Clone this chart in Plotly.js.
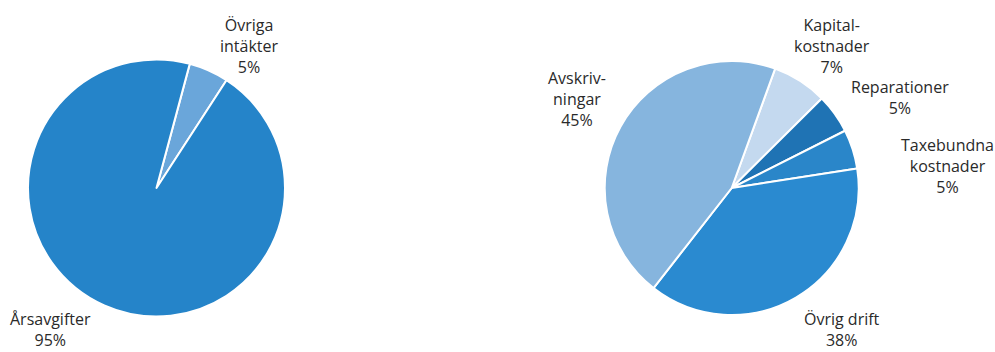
<!DOCTYPE html>
<html>
<head>
<meta charset="utf-8">
<script src="https://cdn.plot.ly/plotly-3.0.1.min.js"></script>
<style>html,body{margin:0;padding:0;background:#fff;}#chart{width:995px;height:352px;}</style>
</head>
<body>
<div id="chart"></div>
<script>
// Left pie: income
const incomeLabels = ["Övriga intäkter", "Årsavgifter"];
const incomeValues = [5, 95];
const incomeText = ["Övriga<br>intäkter<br>5%", "Årsavgifter<br>95%"];
const incomeColors = ["#6aa6da", "#2584c9"];

// Right pie: costs
const costLabels = ["Kapitalkostnader", "Reparationer", "Taxebundna kostnader", "Övrig drift", "Avskrivningar"];
const costValues = [7, 5, 5, 38, 45];
const costText = ["Kapital-<br>kostnader<br>7%", "Reparationer<br>5%", "Taxebundna<br>kostnader<br>5%", "Övrig drift<br>38%", "Avskriv-<br>ningar<br>45%"];
const costColors = ["#c4d9ef", "#1f73b4", "#2a86c9", "#2a8ad0", "#86b5de"];

const W = 995, H = 352;
function dom(cx, cy, r) {
  return {
    x: [(cx - r) / W, (cx + r) / W],
    y: [(H - cy - r) / H, (H - cy + r) / H]
  };
}

const data = [
  {
    type: "pie", labels: incomeLabels, values: incomeValues,
    sort: false, direction: "clockwise", rotation: 15,
    marker: {colors: incomeColors, line: {color: "#ffffff", width: 2}},
    textinfo: "none", hoverinfo: "label+percent",
    domain: dom(156.5, 188, 128.5), showlegend: false
  },
  {
    type: "pie", labels: costLabels, values: costValues,
    sort: false, direction: "clockwise", rotation: 20,
    marker: {colors: costColors, line: {color: "#ffffff", width: 2}},
    textinfo: "none", hoverinfo: "label+percent",
    domain: dom(731.7, 188, 127), showlegend: false
  }
];

// label anchor positions (pixels, center of text block)
const incomePos = [[50, 46], [50, 329]];
incomePos[0][0] = 250;
const costPos = [[832, 46], [900, 98], [947, 166], [842, 329], [577, 99]];

const annotations = [];
function addAnn(texts, pos) {
  texts.forEach((t, i) => {
    annotations.push({
      text: t, xref: "paper", yref: "paper",
      x: pos[i][0] / W, y: 1 - pos[i][1] / H,
      xanchor: "center", yanchor: "middle",
      showarrow: false, align: "center", borderpad: 0,
      font: {family: "Open Sans, Noto Sans, sans-serif", size: 16, color: "#2a2a2a"}
    });
  });
}
addAnn(incomeText, incomePos);
addAnn(costText, costPos);

const layout = {
  width: W, height: H,
  margin: {l: 0, r: 0, t: 0, b: 0},
  paper_bgcolor: "#ffffff",
  plot_bgcolor: "#ffffff",
  showlegend: false,
  annotations: annotations
};

Plotly.newPlot("chart", data, layout, {displayModeBar: false, staticPlot: true});
</script>
</body>
</html>
